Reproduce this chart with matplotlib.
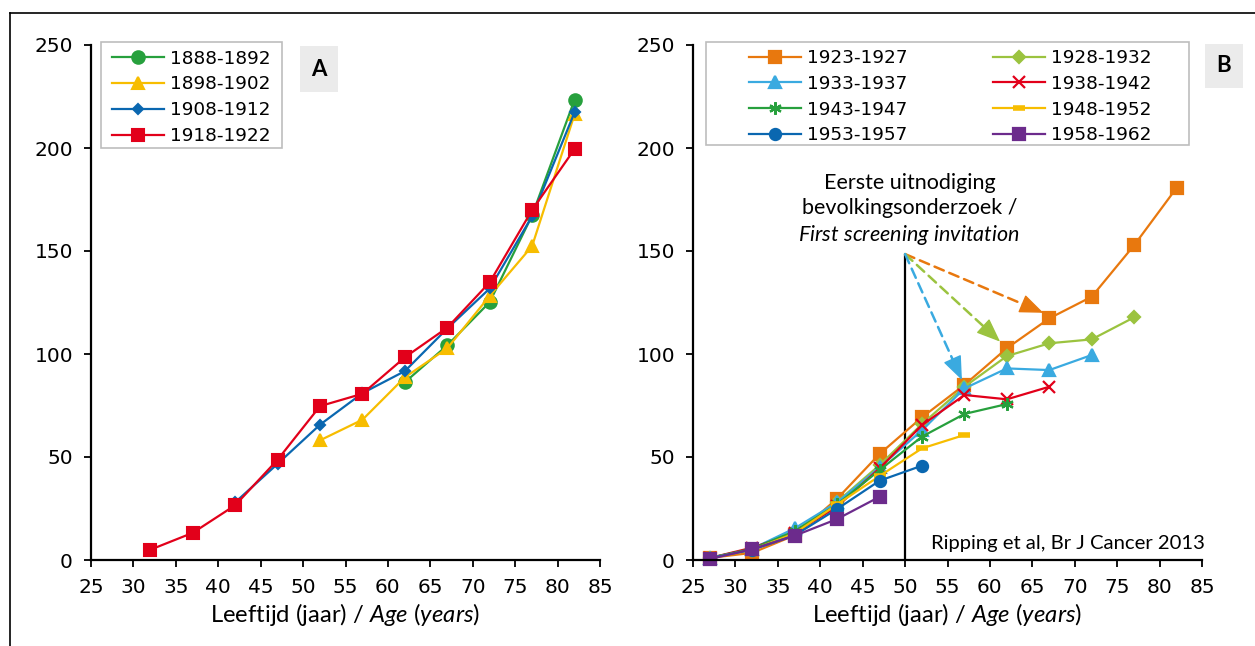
import matplotlib
matplotlib.use('Agg')
import matplotlib.pyplot as plt
from matplotlib.patches import Rectangle
from matplotlib.lines import Line2D

plt.rcParams['font.family'] = ['DejaVu Sans']
plt.rcParams['mathtext.fontset'] = 'custom'
plt.rcParams['mathtext.rm'] = 'Lato'
plt.rcParams['mathtext.it'] = 'Lato:italic'

W, H = 1255, 646

ages = [27, 32, 37, 42, 47, 52, 57, 62, 67, 72, 77, 82]

# panel A: older cohorts, values end at age 82
a_1888 = [86.3, 104.2, 125.2, 167.3, 223.4]
a_1898 = [58.1, 68.1, 88.7, 102.8, 128.2, 152.4, 216.3]
a_1908 = [28.0, 46.7, 65.7, 81.0, 91.7, 112.4, 131.8, 166.9, 217.3]
a_1918 = [5.0, 13.2, 26.6, 48.7, 74.7, 80.7, 98.4, 112.8, 134.8, 169.9, 199.5]

# panel B: younger cohorts, values start at age 27
b_1923 = [1.0, 3.5, 12.0, 29.8, 51.5, 69.3, 85.0, 102.8, 117.3, 127.8, 152.8, 180.6]
b_1928 = [1.0, 5.0, 14.0, 28.3, 46.1, 66.0, 84.1, 99.0, 105.2, 107.1, 117.8]
b_1933 = [1.0, 5.5, 15.4, 28.0, 45.0, 63.0, 83.3, 93.0, 92.2, 99.5]
b_1938 = [1.0, 6.0, 13.0, 26.0, 44.5, 65.5, 80.1, 78.0, 84.1]
b_1943 = [1.0, 5.5, 14.0, 27.0, 43.7, 59.9, 70.9, 75.7]
b_1948 = [1.0, 5.0, 13.0, 27.0, 40.8, 54.2, 60.7]
b_1953 = [1.0, 5.0, 12.0, 24.8, 38.5, 45.8]
b_1958 = [0.5, 5.3, 11.8, 19.9, 30.7]

screening_age = 50
arrow_top = 148.5
arrow_tips = [(66.3, 120.0), (61.2, 106.0), (56.7, 87.4)]

orange, lgreen, lblue = '#e8780e', '#9bc33f', '#3aaae0'
red, green, yellow = '#e2001a', '#27a03d', '#f7bd00'
blue, purple = '#0a67b0', '#6c2b8c'

series_a = [
    (a_1888, '1888-1892', green, 'o', 9),
    (a_1898, '1898-1902', yellow, '^', 8),
    (a_1908, '1908-1912', blue, 'D', 5),
    (a_1918, '1918-1922', red, 's', 8),
]
series_b = [
    (b_1923, '1923-1927', orange, 's', 8),
    (b_1928, '1928-1932', lgreen, 'D', 6.5),
    (b_1933, '1933-1937', lblue, '^', 8),
    (b_1938, '1938-1942', red, 'x', 8),
    (b_1943, '1943-1947', green, (6, 2, 0), 9),
    (b_1948, '1948-1952', yellow, '_', 9),
    (b_1953, '1953-1957', blue, 'o', 8),
    (b_1958, '1958-1962', purple, 's', 8),
]

fig = plt.figure(figsize=(W / 100, H / 100), dpi=100)


def px(x0, y0, x1, y1):
    # pixel box -> figure fraction [left, bottom, width, height]
    return [x0 / W, 1 - y1 / H, (x1 - x0) / W, (y1 - y0) / H]


def setup(ax):
    ax.set_xlim(25, 85)
    ax.set_ylim(0, 250)
    ax.set_xticks(range(25, 86, 5))
    ax.set_yticks(range(0, 251, 50))
    for s in ['top', 'right']:
        ax.spines[s].set_visible(False)
    for s in ['left', 'bottom']:
        ax.spines[s].set_linewidth(1.6)
    ax.tick_params(direction='out', length=5, width=1.3, labelsize=14.5, pad=8)
    ax.set_xlabel(r'Leeftijd (jaar) / $\mathit{Age\ (years)}$', fontsize=17.2,
                  family='Lato', labelpad=3)


def legend_box(box, handle_xy, ncol, colsp, labsp, handles):
    fig.add_artist(Rectangle((box[0], box[1]), box[2], box[3], transform=fig.transFigure,
                             facecolor='white', edgecolor='#bdbdbd', lw=1.2, zorder=5))
    leg = fig.legend(handles=handles, loc='upper left', bbox_to_anchor=handle_xy,
                     ncol=ncol, frameon=False, fontsize=13.3, borderpad=0,
                     borderaxespad=0, handlelength=2.85, handletextpad=0.3,
                     columnspacing=colsp, labelspacing=labsp, numpoints=1)
    leg.set_zorder(6)


def panel_label(x0, y0, x1, y1, letter):
    b = px(x0, y0, x1, y1)
    fig.add_artist(Rectangle((b[0], b[1]), b[2], b[3], transform=fig.transFigure,
                             facecolor='#ebebeb', edgecolor='none'))
    fig.text(b[0] + b[2] / 2, b[1] + b[3] / 2, letter, ha='center', va='center',
             fontsize=16, fontweight='bold', family='Lato')


# ---- panel A
axA = fig.add_axes(px(91, 45, 600, 560))
setup(axA)
hA = []
for vals, lab, c, m, ms in series_a:
    l, = axA.plot(ages[-len(vals):], vals, color=c, lw=1.6, marker=m, ms=ms,
                  mew=1.5, label=lab, clip_on=False)
    hA.append(l)

# ---- panel B
axB = fig.add_axes(px(693, 45, 1202, 560))
setup(axB)
axB.vlines(screening_age, 0, arrow_top, color='black', lw=1.6, zorder=1)
hB = []
for vals, lab, c, m, ms in series_b:
    mew = 4 if m == '_' else 1.6
    l, = axB.plot(ages[:len(vals)], vals, color=c, lw=1.6, marker=m, ms=ms,
                  mew=mew, label=lab, clip_on=False)
    hB.append(l)

# dashed shaft + solid head for each arrow
for (tx, ty), c in zip(arrow_tips, [orange, lgreen, lblue]):
    axB.annotate('', xy=(tx, ty), xytext=(screening_age, arrow_top),
                 arrowprops=dict(arrowstyle='-', color=c, lw=1.8,
                                 linestyle=(0, (4, 2.4)), shrinkA=0, shrinkB=12))
    near = (tx - 0.06 * (tx - screening_age), ty - 0.06 * (ty - arrow_top))
    axB.annotate('', xy=(tx, ty), xytext=near,
                 arrowprops=dict(arrowstyle='-|>,head_length=0.75,head_width=0.3',
                                 color=c, lw=1.0, shrinkA=0, shrinkB=0,
                                 mutation_scale=20))

axB.text(50.5, 169.8, 'Eerste uitnodiging\nbevolkingsonderzoek /\n'
         r'$\mathit{First\ screening\ invitation}$',
         ha='center', va='center', fontsize=15.5, family='Lato', linespacing=1.3)
axB.text(85.3, 8, 'Ripping et al, Br J Cancer 2013', ha='right', va='center',
         fontsize=14.6, family='Lato')

# legends order in B goes row by row (two columns)
order = [0, 2, 4, 6, 1, 3, 5, 7]
legend_box(px(100.7, 42, 281.7, 148), (111.7 / W, 1 - 49.5 / H), 1, 2, 0.43, hA)
legend_box(px(706, 42.5, 1189, 144.6), (748.8 / W, 1 - 49.0 / H), 2, 4.6, 0.42,
           [hB[i] for i in order])

panel_label(300, 46, 338, 92, 'A')
panel_label(1205, 44, 1243, 88, 'B')

# outer frame (top and left edge)
fig.add_artist(Line2D([10 / W, 1], [1 - 13 / H, 1 - 13 / H], color='black', lw=1.2))
fig.add_artist(Line2D([10 / W, 10 / W], [0, 1 - 13 / H], color='black', lw=1.2))

fig.savefig('out.png', dpi=100)
